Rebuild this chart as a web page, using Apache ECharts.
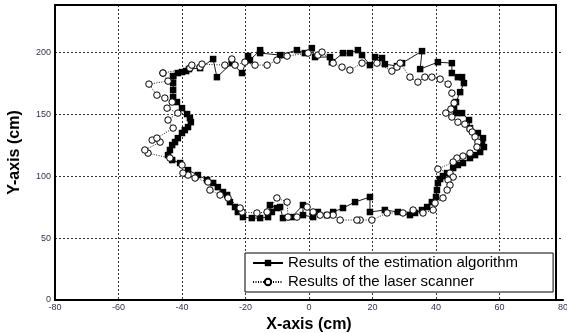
<!DOCTYPE html>
<html>
<head>
<meta charset="utf-8">
<script src="https://cdn.jsdelivr.net/npm/echarts@6/dist/echarts.min.js"></script>
<style>
  html, body { margin: 0; padding: 0; background: #fff; }
  #chart { width: 567px; height: 333px; }
</style>
</head>
<body>
<div id="chart"></div>
<script>
// path traced clockwise, [x cm, y cm]
const estimationPts = [
  [-42.8, 180.6], [-41.3, 183.1], [-40.0, 183.9], [-38.7, 184.7], [-37.8, 186.3],
  [-34.3, 187.1], [-30.2, 194.4], [-29.0, 179.8], [-24.3, 191.1], [-21.1, 183.1],
  [-19.2, 196.8], [-18.6, 193.5], [-15.4, 201.6], [-15.4, 199.2], [-9.1, 197.6],
  [-3.8, 201.6], [-1.3, 199.2], [0.9, 203.2], [1.9, 196.0], [6.6, 196.0],
  [7.2, 191.9], [10.7, 199.2], [12.9, 199.2], [15.4, 201.6], [16.7, 197.6],
  [19.2, 189.5], [20.8, 196.0], [23.0, 195.2], [23.9, 190.3], [27.7, 188.7],
  [29.3, 191.1], [35.6, 200.8], [35.0, 186.3], [40.6, 191.9], [45.0, 191.1],
  [45.0, 183.1], [46.9, 179.8], [48.2, 179.8], [48.8, 175.0], [47.6, 167.7],
  [46.3, 159.7], [45.7, 155.6], [46.3, 150.8], [48.2, 150.8], [50.4, 145.2],
  [50.7, 138.7], [53.2, 134.7], [54.8, 130.6], [54.5, 126.6], [55.1, 123.4],
  [53.9, 119.4], [52.3, 116.9], [50.7, 114.5], [48.5, 110.5], [46.9, 108.9],
  [45.4, 106.5], [43.5, 102.4], [42.2, 100.0], [41.3, 97.6], [40.6, 94.4],
  [40.3, 88.7], [40.0, 83.1], [38.7, 79.0], [37.2, 75.0], [35.6, 72.6],
  [33.4, 70.2], [31.8, 68.5], [28.0, 71.0], [23.9, 72.6], [19.2, 71.0],
  [19.2, 83.1], [14.5, 79.0], [10.7, 74.2], [7.6, 71.0], [5.7, 68.5],
  [2.8, 71.0], [1.3, 66.9], [-1.9, 68.5], [-1.9, 76.6], [-5.4, 66.9],
  [-8.2, 66.1], [-9.1, 75.0], [-10.1, 74.2], [-12.3, 76.6], [-11.7, 71.0],
  [-12.9, 66.9], [-15.4, 66.1], [-18.0, 66.1], [-20.8, 66.9], [-22.4, 71.0],
  [-23.3, 75.0], [-24.9, 79.0], [-25.8, 84.7], [-27.1, 87.1], [-28.7, 91.1],
  [-30.2, 94.4], [-32.1, 96.8], [-35.0, 100.8], [-38.1, 104.8], [-40.6, 110.5],
  [-43.1, 112.9], [-44.4, 116.9], [-43.8, 121.0], [-43.1, 125.0], [-42.2, 127.4],
  [-41.3, 130.6], [-40.0, 134.7], [-39.1, 137.1], [-38.1, 139.5], [-37.2, 143.5],
  [-37.5, 146.8], [-38.4, 150.0], [-40.0, 154.8], [-41.6, 159.7], [-42.8, 163.7],
  [-42.8, 169.4], [-42.8, 175.0], [-42.8, 180.6]
]

const laserPts = [
  [-46.0, 183.1], [-37.5, 187.1], [-36.9, 189.5], [-34.3, 187.9], [-33.7, 190.3],
  [-26.5, 189.5], [-24.3, 194.4], [-23.3, 189.5], [-20.2, 191.9], [-17.0, 189.5],
  [-13.2, 189.5], [-10.1, 193.5], [-6.9, 196.8], [-0.3, 199.2], [2.8, 197.6],
  [4.1, 200.0], [7.6, 191.1], [10.4, 187.9], [12.9, 185.5], [16.7, 191.1],
  [21.4, 191.1], [26.1, 184.7], [27.7, 187.9], [28.7, 191.1], [31.8, 179.8],
  [34.3, 175.8], [36.5, 179.8], [38.7, 179.8], [41.3, 178.2], [43.8, 174.2],
  [45.0, 166.9], [45.7, 158.9], [44.7, 154.0], [43.1, 150.8], [45.0, 147.6],
  [46.9, 143.5], [49.1, 141.9], [50.7, 137.9], [51.4, 135.5], [52.3, 131.5],
  [53.2, 127.4], [52.9, 123.4], [50.7, 118.5], [48.5, 116.1], [46.6, 114.5],
  [45.4, 111.3], [40.6, 105.6], [44.4, 102.4], [45.4, 99.2], [43.8, 96.8],
  [44.4, 92.7], [43.5, 88.7], [42.2, 82.3], [39.7, 78.2], [39.1, 72.6],
  [35.9, 70.2], [32.8, 72.6], [29.6, 70.2], [24.6, 70.2], [19.8, 64.5],
  [16.1, 64.5], [15.1, 64.5], [9.8, 64.5], [7.6, 68.5], [5.7, 68.5],
  [3.5, 68.5], [1.3, 71.0], [-0.6, 75.0], [-3.8, 66.9], [-6.6, 66.9],
  [-6.9, 79.0], [-10.1, 82.3], [-13.2, 71.0], [-16.4, 70.2], [-21.1, 71.0],
  [-21.7, 74.2], [-25.5, 82.3], [-28.0, 84.7], [-31.2, 88.7], [-31.8, 95.2],
  [-35.9, 98.4], [-38.1, 100.8], [-39.7, 102.4], [-40.0, 108.9], [-43.8, 114.5],
  [-50.7, 118.5], [-51.7, 121.0], [-46.9, 127.4], [-49.4, 129.0], [-47.9, 130.6],
  [-42.8, 138.7], [-44.4, 145.2], [-41.3, 150.8], [-44.7, 154.8], [-43.1, 159.7],
  [-45.4, 162.9], [-47.9, 165.3], [-50.4, 174.2], [-44.4, 176.6], [-46.0, 183.1]
]

const seriesNames = ['Results of the estimation algorithm', 'Results of the laser scanner']
const xTicks = { min: -80, max: 80, step: 20 }
const yTicks = { min: 0, max: 238, step: 50 }

const font = 'Liberation Sans, Arial, sans-serif'
const gridLine = { show: true, lineStyle: { color: '#333', width: 1, type: [2, 2] } }

const chart = echarts.init(document.getElementById('chart'), null, { renderer: 'canvas' })
chart.setOption({
  animation: false,
  backgroundColor: '#fff',
  grid: { left: 55, right: 4, top: 5, bottom: 33, outerBoundsMode: 'none', containLabel: false },
  xAxis: {
    type: 'value',
    min: xTicks.min,
    max: xTicks.max,
    interval: xTicks.step,
    name: 'X-axis (cm)',
    nameLocation: 'middle',
    nameGap: 14,
    nameTextStyle: { fontFamily: font, fontWeight: 'bold', fontSize: 16, color: '#000' },
    axisLine: { onZero: false, lineStyle: { color: '#000', width: 2 } },
    axisTick: { show: false },
    axisLabel: { fontFamily: font, fontSize: 9, color: '#33334a', margin: 3 },
    splitLine: Object.assign({ showMaxLine: false }, gridLine)
  },
  yAxis: {
    type: 'value',
    min: yTicks.min,
    max: yTicks.max,
    interval: yTicks.step,
    name: 'Y-axis (cm)',
    nameLocation: 'middle',
    nameGap: 32,
    nameTextStyle: { fontFamily: font, fontWeight: 'bold', fontSize: 16, color: '#000' },
    axisLine: { show: true, onZero: false, lineStyle: { color: '#000', width: 2 } },
    axisTick: { show: false },
    axisLabel: {
      fontFamily: font, fontSize: 9, color: '#33334a', margin: 4,
      formatter: v => (v % yTicks.step === 0 ? String(v) : '')
    },
    splitLine: Object.assign({ showMaxLine: false }, gridLine)
  },
  legend: {
    orient: 'vertical',
    left: 245,
    top: 253,
    padding: [2, 35, 2, 7],
    itemGap: 3,
    itemWidth: 30,
    itemHeight: 8,
    backgroundColor: '#fff',
    borderColor: '#000',
    borderWidth: 1,
    borderRadius: 0,
    textStyle: { fontFamily: font, fontSize: 15, color: '#000', lineHeight: 16 },
    data: seriesNames
  },
  graphic: [{
    type: 'rect',
    shape: { x: 55, y: 5, width: 501, height: 295 },
    style: { fill: 'none', stroke: '#000', lineWidth: 2 },
    silent: true,
    z: 100
  }],
  series: [
    {
      name: seriesNames[0],
      type: 'line',
      data: estimationPts,
      symbol: 'rect',
      symbolSize: 6.5,
      lineStyle: { color: '#000', width: 0.9 },
      itemStyle: { color: '#000' },
      z: 2
    },
    {
      name: seriesNames[1],
      type: 'line',
      data: laserPts,
      symbol: 'circle',
      symbolSize: 6.5,
      showAllSymbol: true,
      lineStyle: { color: '#000', width: 0.9, type: [1, 1.5] },
      itemStyle: { color: '#fff', borderColor: '#000', borderWidth: 1 },
      z: 3
    }
  ]
})
</script>
</body>
</html>
